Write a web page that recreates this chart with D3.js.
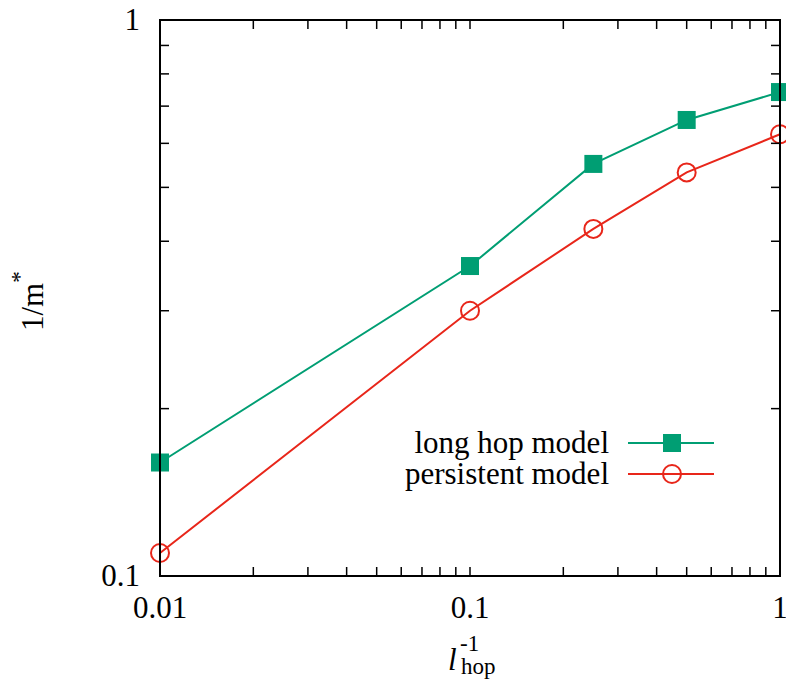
<!DOCTYPE html>
<html>
<head>
<meta charset="utf-8">
<script src="https://cdn.jsdelivr.net/npm/d3@7"></script>
<style>
  html, body { margin: 0; padding: 0; background: #fff; }
</style>
</head>
<body>
<svg id="chart" width="786" height="680"></svg>
<script>
// Inverse hop length values and the two model curves
const hopInv = [0.01, 0.1, 0.25, 0.5, 1];
const longHop = [0.160, 0.361, 0.551, 0.661, 0.742];
const persistent = [0.110, 0.300, 0.421, 0.532, 0.623];
const seriesNames = ["long hop model", "persistent model"];
const xTickLabels = ["0.01", "0.1", "1"];
const yTickLabels = ["0.1", "1"];

const W = 786, H = 680;
const margin = { left: 160, right: 6, top: 20, bottom: 104 };
const svg = d3.select("#chart");
const serif = '"Liberation Serif"';

const x = d3.scaleLog().domain([0.01, 1]).range([margin.left, W - margin.right]);
const y = d3.scaleLog().domain([0.1, 1]).range([H - margin.bottom, margin.top]);

const green = "#009e73";
const red = "#e8261a";
const tickLen = 9;
const fontSize = 31;

// Series lines and markers
const line = d3.line().x(d => x(d[0])).y(d => y(d[1]));
const g = svg.append("g");
const dataA = hopInv.map((v, i) => [v, longHop[i]]);
const dataB = hopInv.map((v, i) => [v, persistent[i]]);

g.append("path").datum(dataA).attr("d", line)
  .attr("fill", "none").attr("stroke", green).attr("stroke-width", 2);
g.append("path").datum(dataB).attr("d", line)
  .attr("fill", "none").attr("stroke", red).attr("stroke-width", 2);

const sq = 18;
g.selectAll("rect.pt").data(dataA).join("rect").attr("class", "pt")
  .attr("x", d => x(d[0]) - sq / 2).attr("y", d => y(d[1]) - sq / 2)
  .attr("width", sq).attr("height", sq).attr("fill", green);
g.selectAll("circle.pt").data(dataB).join("circle").attr("class", "pt")
  .attr("cx", d => x(d[0])).attr("cy", d => y(d[1])).attr("r", 9)
  .attr("fill", "none").attr("stroke", red).attr("stroke-width", 2);

// Ticks on all four sides, pointing inward
const xTicks = [];
[0.01, 0.1].forEach(b => { for (let k = 1; k <= 9; k++) xTicks.push(b * k); });
xTicks.push(1);
const yTicks = [];
[0.1].forEach(b => { for (let k = 1; k <= 9; k++) yTicks.push(b * k); });
yTicks.push(1);

const axes = svg.append("g").attr("stroke", "#000").attr("stroke-width", 1.5);
const x0 = x.range()[0], x1 = x.range()[1], y0 = y.range()[0], y1 = y.range()[1];
xTicks.forEach(t => {
  const px = x(t);
  axes.append("line").attr("x1", px).attr("x2", px).attr("y1", y0).attr("y2", y0 - tickLen);
  axes.append("line").attr("x1", px).attr("x2", px).attr("y1", y1).attr("y2", y1 + tickLen);
});
yTicks.forEach(t => {
  const py = y(t);
  axes.append("line").attr("x1", x0).attr("x2", x0 + tickLen).attr("y1", py).attr("y2", py);
  axes.append("line").attr("x1", x1).attr("x2", x1 - tickLen).attr("y1", py).attr("y2", py);
});

// Border
svg.append("rect").attr("x", x0).attr("y", y1).attr("width", x1 - x0).attr("height", y0 - y1)
  .attr("fill", "none").attr("stroke", "#000").attr("stroke-width", 2);

// Tick labels
const xTickVals = [0.01, 0.1, 1];
svg.selectAll("text.xt").data(xTickVals).join("text").attr("class", "xt")
  .attr("x", d => x(d)).attr("y", y0 + 42)
  .attr("text-anchor", "middle").attr("font-size", fontSize).style("font-family", serif)
  .text((d, i) => xTickLabels[i]);
const yTickVals = [0.1, 1];
svg.selectAll("text.yt").data(yTickVals).join("text").attr("class", "yt")
  .attr("x", x0 - 20).attr("y", d => y(d) + 10)
  .attr("text-anchor", "end").attr("font-size", fontSize).style("font-family", serif)
  .text((d, i) => yTickLabels[i]);

// Axis titles
const xl = svg.append("g").attr("font-size", fontSize).style("font-family", serif);
xl.append("text").attr("x", 448).attr("y", 670).attr("font-style", "italic").text("l");
xl.append("text").attr("x", 460).attr("y", 651).attr("font-size", 23).text("-1");
xl.append("text").attr("x", 461).attr("y", 674).attr("font-size", 23).text("hop");

const yl = svg.append("text").attr("font-size", fontSize).style("font-family", serif)
  .attr("transform", "translate(43,331) rotate(-90)");
yl.append("tspan").text("1/m");
yl.append("tspan").attr("dy", -16).attr("font-size", 23).text("*");

// Legend
const legend = svg.append("g");
const rows = [
  { name: seriesNames[0], color: green, kind: "square", y: 443 },
  { name: seriesNames[1], color: red, kind: "circle", y: 474 }
];
rows.forEach(r => {
  legend.append("text").attr("x", 609).attr("y", r.y + 10)
    .attr("text-anchor", "end").attr("font-size", fontSize).style("font-family", serif).text(r.name);
  legend.append("line").attr("x1", 628).attr("x2", 714).attr("y1", r.y).attr("y2", r.y)
    .attr("stroke", r.color).attr("stroke-width", 2);
  if (r.kind === "square") {
    legend.append("rect").attr("x", 672 - sq / 2).attr("y", r.y - sq / 2)
      .attr("width", sq).attr("height", sq).attr("fill", r.color);
  } else {
    legend.append("circle").attr("cx", 672).attr("cy", r.y).attr("r", 9)
      .attr("fill", "none").attr("stroke", r.color).attr("stroke-width", 2);
  }
});
</script>
</body>
</html>
